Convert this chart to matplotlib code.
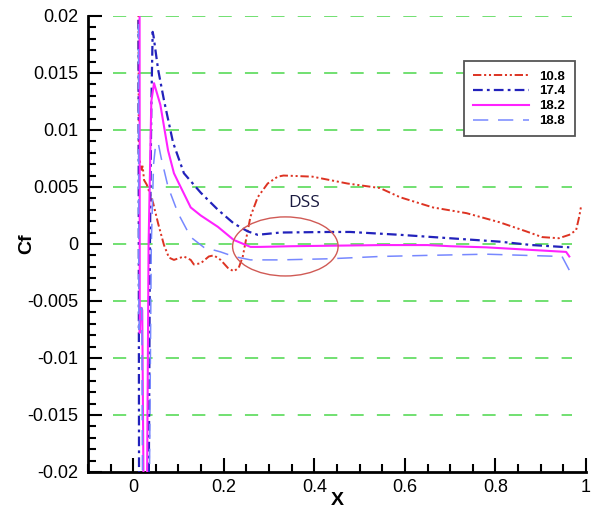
import numpy as np
import matplotlib
matplotlib.use("Agg")
import matplotlib.pyplot as plt
from matplotlib.patches import Ellipse

plt.rcParams['font.family'] = ['Liberation Sans', 'DejaVu Sans']
plt.rcParams['lines.scale_dashes'] = False

# Cf along the chord
x_108 = [0.011, 0.0125, 0.015, 0.018, 0.021, 0.024, 0.030, 0.036, 0.044, 0.055, 0.068,
         0.079, 0.090, 0.112, 0.127, 0.134, 0.149, 0.167, 0.178, 0.193, 0.209, 0.222,
         0.233, 0.242, 0.249, 0.259, 0.275, 0.297, 0.319, 0.332, 0.396, 0.473, 0.545,
         0.589, 0.662, 0.736, 0.809, 0.868, 0.903, 0.940, 0.963, 0.978, 0.985, 0.989]
cf_108 = [0.03, 0.0076, 0.0072, 0.0065, 0.0068, 0.0056, 0.0052, 0.0045, 0.0036, 0.0018,
          -0.0001, -0.0012, -0.0014, -0.0011, -0.0014, -0.0018, -0.0017, -0.0011, -0.0010,
          -0.0014, -0.0021, -0.0024, -0.0021, -0.0011, 0.00035, 0.0024, 0.0041, 0.0053,
          0.0059, 0.0060, 0.0059, 0.0053, 0.0049, 0.0041, 0.0032, 0.0027, 0.0019, 0.0011,
          0.0006, 0.0005, 0.0008, 0.0012, 0.0024, 0.0033]

x_174 = [0.0115, 0.013, 0.034, 0.037, 0.040, 0.043, 0.045, 0.055, 0.068, 0.088, 0.112,
         0.149, 0.187, 0.222, 0.253, 0.275, 0.325, 0.435, 0.479, 0.589, 0.699, 0.809,
         0.881, 0.963]
cf_174 = [0.03, -0.025, -0.025, 0.0, 0.012, 0.0186, 0.0182, 0.0153, 0.0126, 0.0089,
          0.0062, 0.0045, 0.0030, 0.0018, 0.0011, 0.0008, 0.0010, 0.00105, 0.00105,
          0.0008, 0.0005, 0.0002, -0.0001, -0.0003]

x_182 = [0.014, 0.0145, 0.016, 0.018, 0.020, 0.0235, 0.030, 0.034, 0.040, 0.046, 0.060,
         0.077, 0.090, 0.101, 0.127, 0.149, 0.187, 0.222, 0.259, 0.281, 0.35, 0.45, 0.55,
         0.65, 0.70, 0.78, 0.956, 0.963]
cf_182 = [0.03, -0.0078, -0.0062, -0.0056, -0.0058, -0.025, -0.025, 0.0, 0.0125, 0.0141,
          0.0122, 0.0082, 0.0062, 0.0053, 0.0032, 0.0025, 0.0015, 0.00035, -0.00026,
          -0.00026, -0.0002, -0.00015, -0.0001, -0.0001, -0.0002, -0.0003, -0.0007, -0.0011]

x_188 = [0.0115, 0.0125, 0.015, 0.019, 0.021, 0.035, 0.040, 0.045, 0.049, 0.055, 0.0615,
         0.077, 0.099, 0.127, 0.156, 0.193, 0.222, 0.259, 0.325, 0.435, 0.545, 0.655,
         0.780, 0.947, 0.963]
cf_188 = [0.03, -0.0075, -0.0058, -0.0056, -0.025, -0.025, 0.0, 0.0070, 0.0085, 0.0089,
          0.0076, 0.0050, 0.0027, 0.0006, -0.0003, -0.0007, -0.0011, -0.0014, -0.0014,
          -0.0013, -0.0011, -0.0010, -0.0009, -0.0011, -0.0023]

labels = ['10.8', '17.4', '18.2', '18.8']
y_ticks = [-0.02, -0.015, -0.01, -0.005, 0, 0.005, 0.01, 0.015, 0.02]
y_ticklabels = ['-0.02', '-0.015', '-0.01', '-0.005', '0', '0.005', '0.01', '0.015', '0.02']
x_ticks = [0, 0.2, 0.4, 0.6, 0.8, 1]
x_ticklabels = ['0', '0.2', '0.4', '0.6', '0.8', '1']

fig = plt.figure(figsize=(5.98, 5.13), dpi=100)
ax = fig.add_axes([0.147, 0.080, 0.833, 0.889])

# green dashed grid, not full width like tecplot
for yv in y_ticks[1:]:
    ax.plot([-0.045, 0.97], [yv, yv], color='#66dd66', lw=1.3, dashes=(9.5, 9.5), zorder=1)

ax.plot(x_108, cf_108, color='#dd3322', lw=1.4, dashes=(6, 2, 1.5, 2, 1.5, 2), label=labels[0], zorder=3)
ax.plot(x_174, cf_174, color='#2222bb', lw=1.6, dashes=(7, 3, 2, 3), label=labels[1], zorder=3)
ax.plot(x_182, cf_182, color='#ff22ff', lw=1.5, label=labels[2], zorder=3)
ax.plot(x_188, cf_188, color='#7788ff', lw=1.1, dashes=(11, 7), label=labels[3], zorder=3)

ax.add_patch(Ellipse((0.336, -0.00022), 0.233, 0.00518, fill=False, edgecolor='#d05a55', lw=1.0, zorder=4))
ax.text(0.378, 0.0036, 'DSS', color='#1a1a40', fontsize=12.5, family='Open Sans',
        ha='center', va='center')

ax.set_xlim(-0.1, 1.0)
ax.set_ylim(-0.02, 0.02)
ax.set_xticks(x_ticks)
ax.set_xticklabels(x_ticklabels)
ax.set_yticks(y_ticks)
ax.set_yticklabels(y_ticklabels)
ax.set_xticks(np.arange(-0.1, 1.001, 0.05), minor=True)
ax.set_yticks(np.arange(-0.02, 0.0201, 0.001), minor=True)
ax.tick_params(which='both', direction='in', width=1.5, labelsize=13)
ax.tick_params(which='major', length=10)
ax.tick_params(which='minor', length=6)
ax.tick_params(axis='y', pad=7)
ax.tick_params(axis='x', pad=5)

for s in ['top', 'right']:
    ax.spines[s].set_visible(False)
for s in ['left', 'bottom']:
    ax.spines[s].set_linewidth(2)

ax.set_ylabel('Cf', fontsize=14, fontweight='bold')
ax.set_xlabel('X', fontsize=14, fontweight='bold')
ax.yaxis.set_label_coords(-0.105, 0.5)
ax.xaxis.set_label_coords(0.5, -0.045)

leg = ax.legend(loc='upper left', bbox_to_anchor=(0.755, 0.901), borderaxespad=0,
                prop={'weight': 'bold', 'size': 9.5}, handlelength=4.2, labelspacing=0.2,
                fancybox=False, framealpha=1, edgecolor='#555555', borderpad=0.7,
                handletextpad=0.8)
leg.get_frame().set_linewidth(1.3)

fig.savefig('out.png', dpi=100)
